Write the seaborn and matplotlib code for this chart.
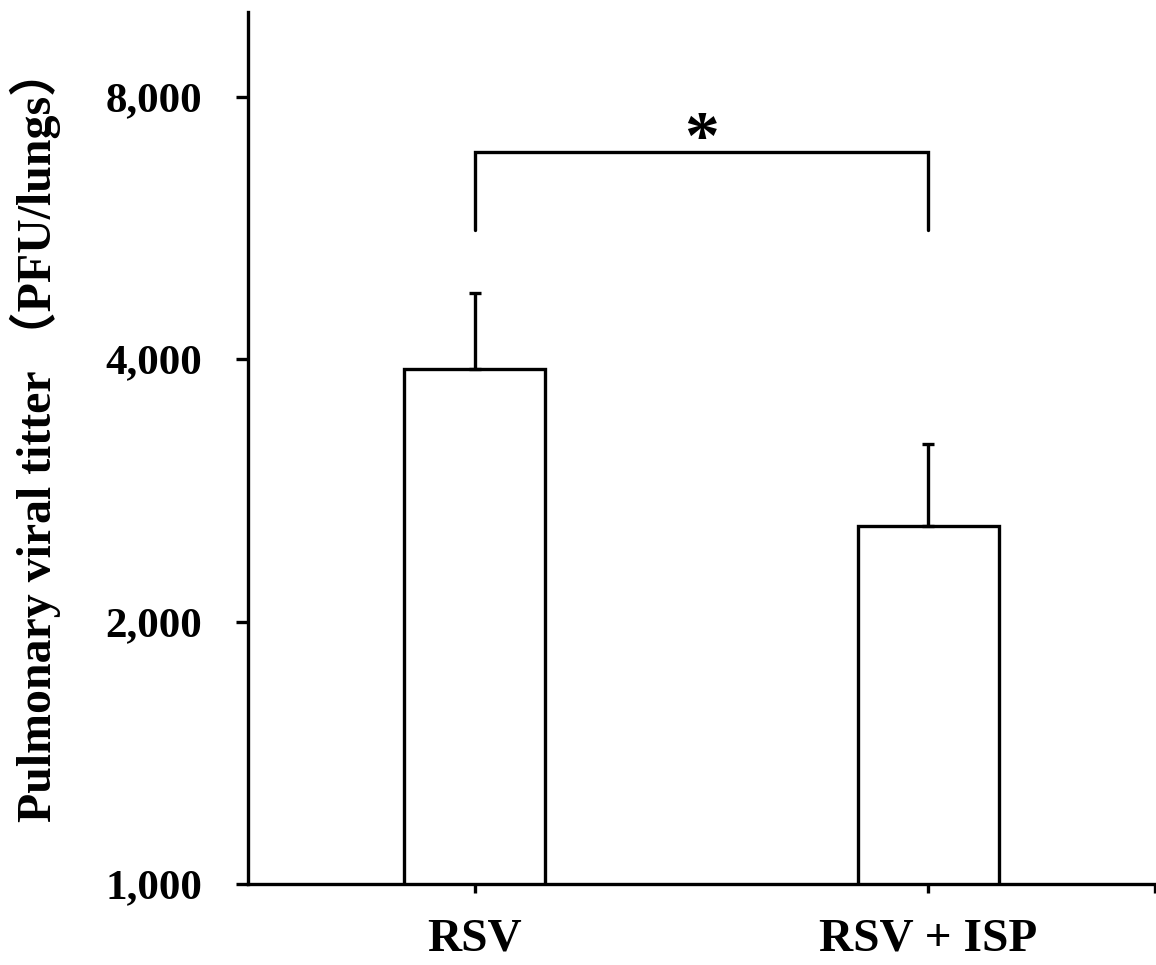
import matplotlib
matplotlib.use("Agg")
import matplotlib.pyplot as plt
import matplotlib.ticker as mticker
import seaborn as sns
import pandas as pd

categories = ["RSV", "RSV + ISP"]
means = [3895, 2572]
err_upper = [4765, 3194]
y_ticks = [1000, 2000, 4000, 8000]
y_tick_labels = ["1,000", "2,000", "4,000", "8,000"]
y_limits = (1000, 10000)
sig_label = "*"
sig_top = 6917
sig_bottom = 5628
sig_text_y = 7100
ylabel = "Pulmonary viral titter （PFU/lungs）"

sns.set_theme(style="white")
FAM = ['Liberation Serif', 'Noto Sans CJK SC']
plt.rcParams['font.family'] = FAM
plt.rcParams['font.weight'] = 'bold'

df = pd.DataFrame({"group": categories, "value": means})

fig = plt.figure(figsize=(11.56, 9.65), dpi=100)
ax = fig.add_axes([248/1156, (965-884)/965, (1155-248)/1156, (884-12)/965])

sns.barplot(data=df, x="group", y="value", ax=ax, width=0.31,
            color="white", edgecolor="black", linewidth=2.4, errorbar=None,
            saturation=1)

yerr_up = [u - m for u, m in zip(err_upper, means)]
ax.errorbar(range(len(categories)), means, yerr=[[0]*len(means), yerr_up],
            fmt="none", ecolor="black", elinewidth=2.4, capsize=4, capthick=2.4,
            zorder=3)

ax.set_yscale("log", base=2)
ax.set_ylim(*y_limits)
ax.set_xlim(-0.5, 1.5)
ax.yaxis.set_major_locator(mticker.FixedLocator(y_ticks))
ax.yaxis.set_major_formatter(mticker.FixedFormatter(y_tick_labels))
ax.yaxis.set_minor_locator(mticker.NullLocator())
ax.set_xticks([0, 1])
ax.set_xticklabels(categories)
ax.xaxis.set_minor_locator(mticker.FixedLocator([1.5]))

for s in ["top", "right"]:
    ax.spines[s].set_visible(False)
for s in ["left", "bottom"]:
    ax.spines[s].set_linewidth(2.4)
    ax.spines[s].set_color("black")

ax.tick_params(axis="y", which="major", direction="out", length=9, width=2.4,
               labelsize=31, pad=24, left=True, colors="black")
ax.tick_params(axis="x", which="both", direction="out", length=6.5, width=2.4,
               labelsize=34, pad=18, bottom=True, colors="black")
for lab in ax.get_xticklabels() + ax.get_yticklabels():
    lab.set_fontweight("bold")
    lab.set_family(FAM)

ax.set_xlabel("")
ax.set_ylabel(ylabel, fontsize=34.5, fontweight="bold", labelpad=32, color="black",
              family=FAM)
ax.yaxis.label.set_y(0.515)

# significance bracket
ax.plot([0, 0, 1, 1], [sig_bottom, sig_top, sig_top, sig_bottom],
        color="black", linewidth=2.4, solid_joinstyle="miter")
ax.text(0.5, sig_text_y, sig_label, ha="center", va="center", fontsize=50,
        fontweight="bold", color="black", family=FAM)

fig.savefig("out.png", dpi=100, facecolor="white")
